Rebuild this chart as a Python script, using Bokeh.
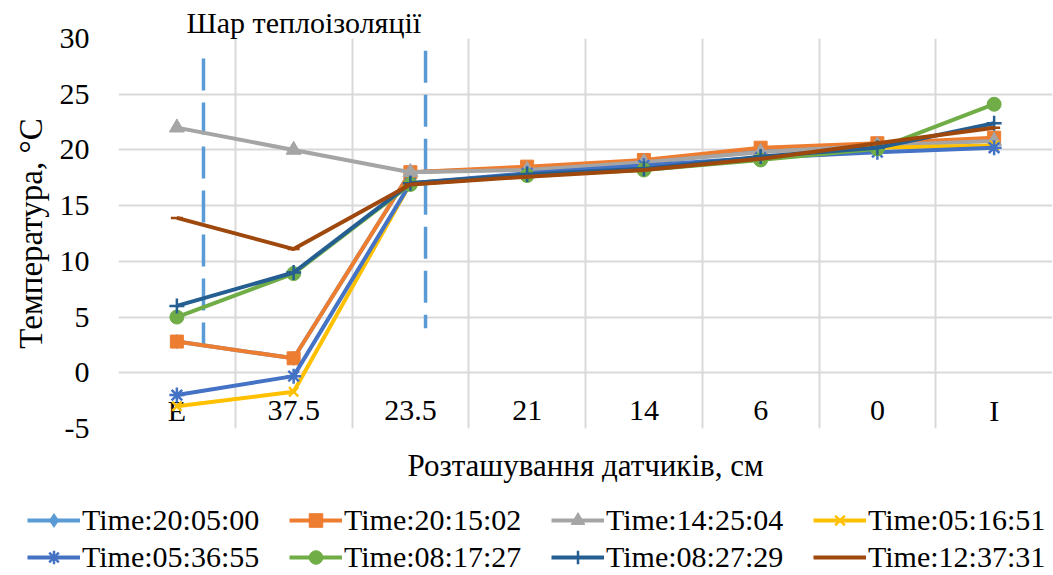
from bokeh.plotting import figure
from bokeh.layouts import column
from bokeh.models import Range1d, FixedTicker, Legend, LegendItem
from bokeh.core.properties import value
from bokeh.embed import file_html
from bokeh.resources import INLINE

# ---------------- data ----------------
categories = ["E", "37.5", "23.5", "21", "14", "6", "0", "I"]

names = ["Time:20:05:00", "Time:20:15:02", "Time:14:25:04", "Time:05:16:51",
         "Time:05:36:55", "Time:08:17:27", "Time:08:27:29", "Time:12:37:31"]

t_200500 = [2.8, 1.3, 18.0, 18.4, 19.0, 20.0, 20.5, 20.9]
t_201502 = [2.8, 1.3, 18.0, 18.5, 19.1, 20.2, 20.6, 21.1]
t_142504 = [22.0, 20.0, 18.0, 18.2, 18.9, 19.8, 20.4, 20.8]
t_051651 = [-3.0, -1.7, 17.0, 17.8, 18.4, 19.3, 20.2, 20.4]
t_053655 = [-2.0, -0.3, 17.0, 17.9, 18.6, 19.3, 19.8, 20.2]
t_081727 = [5.0, 8.9, 16.9, 17.7, 18.2, 19.1, 20.1, 24.1]
t_082729 = [6.0, 9.0, 17.0, 17.8, 18.3, 19.4, 20.2, 22.4]
t_123731 = [13.9, 11.1, 16.9, 17.6, 18.2, 19.2, 20.6, 22.0]

y_ticks = [-5, 0, 5, 10, 15, 20, 25, 30]

layer_text = "Шар теплоізоляції"
x_title = "Розташування датчиків, см"
y_title = "Температура, °C"

# ---------------- styles ----------------
FONT = "Liberation Serif"
GRID = "#D9D9D9"
series = [t_200500, t_201502, t_142504, t_051651, t_053655, t_081727, t_082729, t_123731]
colors = ["#5B9BD5", "#ED7D31", "#A5A5A5", "#FFC000", "#4472C4", "#70AD47", "#255E91", "#9E480E"]
markers = ["diamond", "square", "triangle", "x", "asterisk", "circle", "cross", "dash"]
msizes = [14, 13, 15, 13, 15, 14, 15, 12]
stroke_markers = ("x", "asterisk", "cross", "dash")

# annotation geometry (data units)
layer_x = [0.728, 2.63]
layer_top = [28.2, 28.9]
layer_bottom = [2.4, 4.0]
label_y = -3.4

xs = [i + 0.5 for i in range(len(categories))]

p = figure(width=1053, height=493,
           x_range=Range1d(0, len(categories)), y_range=Range1d(y_ticks[0], y_ticks[-1]),
           output_backend="svg", toolbar_location=None,
           min_border_left=118, min_border_top=38, min_border_right=1, min_border_bottom=65)
p.outline_line_color = None
p.frame_align = False

# title over the insulation layer
p.title.text = layer_text
p.title.align = "left"
p.title.offset = 68
p.title.standoff = 0
p.title.text_font = FONT
p.title.text_font_size = "30px"
p.title.text_font_style = "normal"
p.title.text_color = "black"

# grids
p.xgrid.ticker = FixedTicker(ticks=list(range(len(categories) + 1)))
p.ygrid.ticker = FixedTicker(ticks=y_ticks)
for g in (p.xgrid, p.ygrid):
    g.grid_line_color = GRID
    g.grid_line_width = 2

# y axis
p.yaxis.ticker = FixedTicker(ticks=y_ticks)
p.yaxis.major_label_overrides = {t: str(t) for t in y_ticks}
p.yaxis.axis_line_color = None
p.yaxis.major_tick_line_color = None
p.yaxis.minor_tick_line_color = None
p.yaxis.major_label_text_font = FONT
p.yaxis.major_label_text_font_size = "30px"
p.yaxis.major_label_text_color = "black"
p.yaxis.major_label_standoff = 23
p.yaxis.axis_label = y_title
p.yaxis.axis_label_text_font = FONT
p.yaxis.axis_label_text_font_size = "33px"
p.yaxis.axis_label_text_font_style = "normal"
p.yaxis.axis_label_text_color = "black"
p.yaxis.axis_label_standoff = 8

# x axis (title only)
p.xaxis.ticker = FixedTicker(ticks=[])
p.xaxis.axis_line_color = None
p.xaxis.major_tick_line_color = None
p.xaxis.minor_tick_line_color = None
p.xaxis.major_label_text_font_size = "0px"
p.xaxis.axis_label = x_title
p.xaxis.axis_label_text_font = FONT
p.xaxis.axis_label_text_font_size = "31px"
p.xaxis.axis_label_text_font_style = "normal"
p.xaxis.axis_label_text_color = "black"
p.xaxis.axis_label_standoff = 19

# category labels inside plot
p.text(x=xs, y=[label_y] * len(categories), text=categories,
       text_font=value(FONT), text_font_size="30px", text_color="black",
       text_align="center", text_baseline="middle")

# dashed insulation boundaries
p.segment(x0=layer_x, y0=layer_top, x1=layer_x, y1=layer_bottom,
          line_color="#5B9BD5", line_width=3.5, line_dash="32 12")

# legend figure (series drawn again, out of its view, only to feed legend glyphs)
lf = figure(width=1053, height=82, x_range=Range1d(0, 1), y_range=Range1d(100, 101),
            x_axis_type=None, y_axis_type=None,
            output_backend="svg", toolbar_location=None, min_border=0)
lf.outline_line_color = None
lf.grid.visible = False
lf.frame_align = False

items = []
for name, vals, c, m, s in zip(names, series, colors, markers, msizes):
    lw = 2.5 if m in stroke_markers else 1
    p.line(xs, vals, line_color=c, line_width=4)
    p.scatter(xs, vals, marker=m, size=s, line_color=c, line_width=lw, fill_color=c)
    r1 = lf.line(xs, vals, line_color=c, line_width=4)
    r2 = lf.scatter(xs, vals, marker=m, size=s, line_color=c, line_width=lw, fill_color=c)
    items.append(LegendItem(label=name, renderers=[r1, r2]))

lg = Legend(items=items, orientation="horizontal", ncols=4, location=(27, 1),
            glyph_width=53, glyph_height=34, label_height=34, label_width=204,
            label_standoff=2, spacing=3, padding=0, margin=0,
            label_text_font=FONT, label_text_font_size="30px", label_text_color="black",
            border_line_color=None, background_fill_alpha=0)
lf.add_layout(lg)

layout = column(p, lf, spacing=0)
open("out.html", "w").write(file_html(layout, INLINE))
